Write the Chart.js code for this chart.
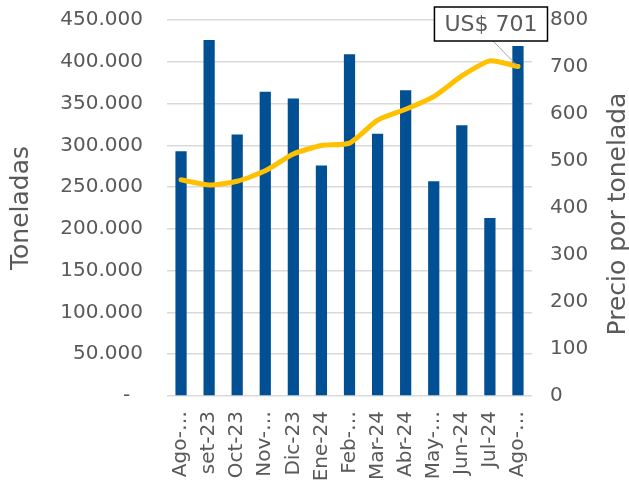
<!DOCTYPE html>
<html>
<head>
<meta charset="utf-8">
<script src="https://cdn.jsdelivr.net/npm/chart.js@4.4.1/dist/chart.umd.min.js"></script>
<style>
  html, body { margin: 0; padding: 0; background: #ffffff; }
  #grafico { display: block; }
</style>
</head>
<body>
<canvas id="grafico" width="629" height="483"></canvas>
<script>
// Meses (etiquetas tal como aparecen en el eje)
const meses = ['Ago-…', 'set-23', 'Oct-23', 'Nov-…', 'Dic-23', 'Ene-24', 'Feb-…',
               'Mar-24', 'Abr-24', 'May-…', 'Jun-24', 'Jul-24', 'Ago-…'];
// Volumen mensual en toneladas
const toneladas = [293000, 426000, 313000, 364000, 356000, 276000, 409000,
                   314000, 366000, 257000, 324000, 213000, 419000];
// Precio promedio US$ por tonelada
const precio = [460, 449, 457, 479, 515, 533, 538, 587, 610, 637, 681, 713, 701];

const GRIS = '#595959';
const FUENTE = 'DejaVu Sans';

// Miles con punto; el cero se muestra como guion
function formatoToneladas(v) {
    if (v === 0) return '-  ';
    return String(v).replace(/\B(?=(\d{3})+(?!\d))/g, '.');
}

// Ancho fijo del eje y sin relleno vertical extra (el padding de ticks lo infla)
function fijarAncho(ancho) {
    return function (scale) {
        scale.width = ancho;
        scale.paddingTop = 0;
        scale.paddingBottom = 0;
    };
}

// Títulos de ejes (ambos leídos de abajo hacia arriba) y etiqueta del último precio
const extras = {
    id: 'extras',
    afterDatasetsDraw(chart) {
        const ctx = chart.ctx;
        const area = chart.chartArea;
        const midY = (area.top + area.bottom) / 2;

        ctx.save();
        ctx.fillStyle = GRIS;
        ctx.font = '25px ' + FUENTE;
        ctx.textAlign = 'center';
        ctx.textBaseline = 'middle';

        ctx.save();
        ctx.translate(21, midY);
        ctx.rotate(-Math.PI / 2);
        ctx.fillText('Toneladas', 0, 0);
        ctx.restore();

        ctx.save();
        ctx.translate(618, midY + 6);
        ctx.rotate(-Math.PI / 2);
        ctx.fillText('Precio por tonelada', 0, 0);
        ctx.restore();

        // Etiqueta del último punto
        const i = precio.length - 1;
        const px = chart.scales.x.getPixelForValue(i);
        const py = chart.scales.y1.getPixelForValue(precio[i]);
        const texto = 'US$ ' + precio[i];
        ctx.font = '22px ' + FUENTE;
        const w = ctx.measureText(texto).width + 20;
        const h = 34;
        const cx = px - 27;
        const top = 7;

        ctx.strokeStyle = '#a6a6a6';
        ctx.lineWidth = 1;
        ctx.beginPath();
        ctx.moveTo(cx + 2, top + h);
        ctx.lineTo(px, py);
        ctx.stroke();

        ctx.fillStyle = '#ffffff';
        ctx.fillRect(cx - w / 2, top, w, h);
        ctx.strokeStyle = '#000000';
        ctx.lineWidth = 1.5;
        ctx.strokeRect(cx - w / 2, top, w, h);

        ctx.fillStyle = GRIS;
        ctx.fillText(texto, cx, top + h / 2 + 1);
        ctx.restore();
    }
};

Chart.defaults.font.family = FUENTE;
Chart.defaults.color = GRIS;

new Chart(document.getElementById('grafico'), {
    type: 'bar',
    data: {
        labels: meses,
        datasets: [
            {
                type: 'line',
                label: 'Precio por tonelada',
                data: precio,
                yAxisID: 'y1',
                borderColor: '#FFC000',
                borderWidth: 5,
                borderCapStyle: 'round',
                borderJoinStyle: 'round',
                pointRadius: 0,
                tension: 0.2,
                order: 0
            },
            {
                label: 'Toneladas',
                data: toneladas,
                yAxisID: 'y',
                backgroundColor: '#005093',
                barPercentage: 0.4,
                categoryPercentage: 1,
                order: 1
            }
        ]
    },
    options: {
        responsive: false,
        animation: false,
        devicePixelRatio: 1,
        layout: { padding: { top: 20, left: 0, right: 0, bottom: 0 } },
        plugins: {
            legend: { display: false },
            tooltip: { enabled: false }
        },
        scales: {
            x: {
                grid: { display: false },
                border: { display: false },
                ticks: {
                    autoSkip: false,
                    minRotation: 90,
                    maxRotation: 90,
                    padding: 7,
                    color: GRIS,
                    font: { size: 20 }
                },
                afterFit(scale) { scale.height = 87; }
            },
            y: {
                position: 'left',
                min: 0,
                max: 450000,
                grid: { color: '#d9d9d9', lineWidth: 1.5, drawTicks: false },
                border: { display: false },
                ticks: {
                    stepSize: 50000,
                    padding: 24,
                    color: GRIS,
                    font: { size: 20 },
                    callback: formatoToneladas
                },
                afterFit: fijarAncho(167)
            },
            y1: {
                position: 'right',
                min: 0,
                max: 800,
                grid: { display: false, drawTicks: false },
                border: { display: false },
                ticks: {
                    stepSize: 100,
                    padding: 18,
                    color: GRIS,
                    font: { size: 20 }
                },
                afterFit: fijarAncho(97)
            }
        }
    },
    plugins: [extras]
});
</script>
</body>
</html>
